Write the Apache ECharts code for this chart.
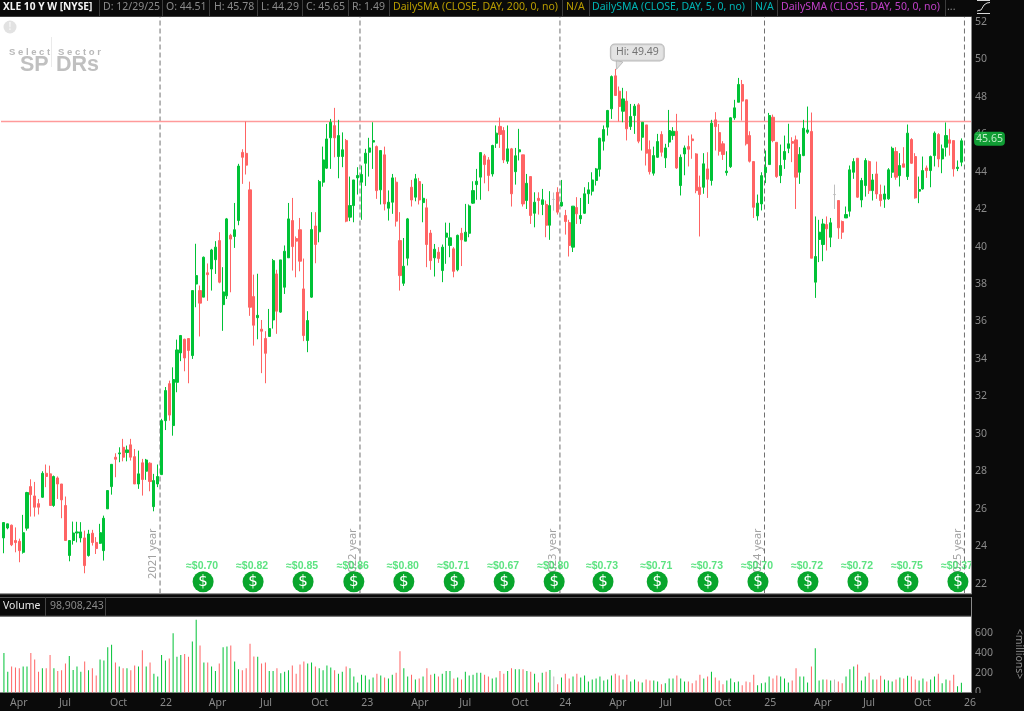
<!DOCTYPE html>
<html>
<head>
<meta charset="utf-8">
<title>XLE 10 Y W</title>
<script src="https://cdn.jsdelivr.net/npm/echarts@6/dist/echarts.min.js"></script>
<style>
html, body { margin: 0; padding: 0; background: #0a0a0a; }
#chart { width: 1024px; height: 711px; }
</style>
</head>
<body>
<div id="chart"></div>
<script>
// weekly candles
const opens = [
  24.44,24.97,25.12,24.3,24.26,23.67,24.96,27.18,26.68,26.27,
  26.61,27.89,27.86,26.17,27.64,27.32,26.17,23.5,24.3,24.7,
  24.44,24.44,23.5,24.69,24.2,24.15,23.76,25.99,27.18,28.75,
  28.93,29.28,29.0,29.41,28.78,27.32,28.45,28.0,28.43,26.11,
  27.32,27.82,30.7,32.68,30.44,32.75,34.32,35.05,35.09,34.18,
  38.0,37.65,37.3,38.6,38.8,39.3,40.32,36.9,37.37,40.6,
  40.54,41.39,45.03,44.98,43.03,37.33,36.2,35.59,35.09,35.2,
  36.08,38.54,36.5,37.83,39.4,41.39,40.43,40.9,37.74,34.98,
  37.3,41.1,40.79,43.44,44.19,45.81,46.46,44.81,44.81,45.66,
  41.57,42.19,43.67,43.44,44.45,45.04,45.58,45.34,43.03,44.9,
  42.05,42.37,43.44,40.32,38.04,39.38,43.17,42.64,43.47,42.35,
  42.07,40.72,39.4,39.7,38.72,40.5,40.06,39.88,38.76,40.71,
  40.29,40.71,42.32,43.31,43.71,44.85,44.63,43.88,45.52,46.42,
  46.2,44.56,45.22,44.0,45.06,44.9,42.46,43.74,41.78,42.58,
  42.25,42.25,41.14,42.52,42.9,42.17,41.66,41.28,39.97,42.09,
  41.48,41.78,42.82,42.96,43.53,44.13,45.63,46.38,47.36,49.12,
  48.3,47.23,47.77,46.41,47.0,47.57,45.84,46.5,45.18,43.92,
  44.77,45.99,44.74,45.58,45.93,46.16,43.26,44.95,45.34,45.75,
  44.95,43.17,43.17,44.15,43.53,46.77,46.09,45.49,43.95,44.27,
  46.88,47.71,48.66,47.84,45.93,44.54,41.64,42.28,43.95,44.38,
  46.91,45.57,43.79,44.65,45.25,45.61,45.7,43.97,44.86,46.11,
  46.15,38.1,40.38,40.11,41.18,40.5,42.78,42.46,41.34,41.53,
  41.89,43.97,44.72,42.49,43.26,44.54,42.99,43.88,42.78,42.53,
  42.55,43.97,45.08,43.79,44.42,43.74,45.72,44.81,42.96,43.08,
  44.2,44.06,44.86,45.99,44.68,45.31,45.7,45.66,44.17,44.51
]
const closes = [
  25.26,25.19,24.07,24.19,23.76,24.72,26.86,26.75,26.08,26.08,
  27.89,27.72,26.17,27.72,27.32,26.47,24.3,24.3,24.7,24.76,
  24.76,22.96,24.65,24.19,23.87,24.72,25.49,26.97,28.37,28.64,
  28.98,28.75,29.14,28.75,27.32,27.86,27.56,28.6,27.45,27.5,
  27.72,30.7,32.31,31.0,32.9,34.48,35.25,34.05,34.45,37.65,
  38.45,36.98,39.43,38.5,39.82,39.97,38.1,37.58,41.48,40.4,
  40.9,44.3,44.77,44.35,36.76,35.8,36.33,35.48,34.3,35.62,
  39.25,36.55,39.29,39.75,41.48,40.0,40.29,39.22,35.25,36.05,
  40.91,40.11,43.47,44.63,45.75,46.64,45.81,45.93,45.17,41.36,
  42.19,43.56,43.8,43.85,44.99,45.27,45.66,42.99,45.13,42.28,
  42.37,43.67,41.36,38.45,38.95,41.48,42.49,43.62,42.49,42.58,
  40.11,39.25,39.86,39.36,39.97,40.72,40.47,38.68,40.6,40.36,
  40.77,42.17,42.99,43.49,45.02,44.38,43.8,45.4,46.06,45.99,
  44.63,45.22,42.82,44.85,45.17,42.28,43.38,41.66,42.37,42.46,
  42.5,41.14,42.19,42.52,41.84,42.37,41.34,40.06,42.16,41.75,
  41.66,42.82,43.03,43.56,44.15,45.79,46.25,47.27,49.08,48.07,
  47.48,47.89,46.29,46.95,47.5,45.63,46.64,44.99,44.0,44.86,
  45.61,45.04,45.27,46.2,46.16,44.2,44.77,45.27,45.2,45.66,
  42.99,42.78,44.42,43.6,46.59,46.41,45.09,44.92,44.03,46.88,
  47.41,48.66,47.77,45.49,44.56,42.1,42.32,43.79,44.24,47.0,
  45.66,43.74,44.33,45.08,45.49,45.52,43.71,44.92,46.32,46.23,
  39.38,39.47,40.77,41.21,40.95,41.27,42.78,41.0,40.77,41.71,
  44.1,44.54,42.64,43.53,44.6,42.99,43.56,42.81,42.46,42.81,
  44.1,45.25,43.71,44.33,44.24,46.06,44.45,42.6,43.05,44.06,
  44.06,44.81,46.06,44.68,45.22,45.93,45.52,44.15,44.24,45.65
]
const lows = [
  23.62,24.9,24.0,23.67,23.14,23.6,24.83,25.58,25.58,25.69,
  26.58,27.15,26.17,26.1,26.52,25.49,24.3,23.19,24.08,24.2,
  24.2,22.55,23.44,24.03,23.58,24.12,23.23,25.99,26.75,27.68,
  28.48,28.53,28.53,28.57,27.32,27.06,26.7,27.54,26.93,25.86,
  27.15,27.8,30.2,30.7,29.9,32.22,33.88,33.34,32.7,34.0,
  36.76,35.2,37.3,37.1,37.65,38.54,38.04,35.5,37.2,37.56,
  39.93,41.14,43.35,43.85,36.3,34.71,35.05,33.24,32.7,35.2,
  35.62,35.34,36.46,37.47,39.4,38.72,38.36,38.68,34.95,34.36,
  37.26,39.11,40.23,43.2,44.15,44.15,44.77,43.65,44.24,41.3,
  41.36,41.3,42.78,41.43,43.24,43.74,44.15,42.55,42.25,41.93,
  41.39,41.75,41.07,37.65,37.9,38.99,42.14,42.42,42.25,41.3,
  38.9,38.76,38.4,39.13,38.1,39.08,39.43,38.36,38.68,38.96,
  40.29,40.5,42.28,42.5,42.5,43.38,42.96,43.74,45.27,45.27,
  44.46,44.42,42.14,43.31,44.6,42.14,42.01,41.21,41.03,41.71,
  41.68,40.5,40.36,41.92,41.71,42.14,40.64,39.47,39.71,41.21,
  41.21,41.75,42.28,42.73,43.26,43.74,45.13,45.93,46.82,48.07,
  46.68,46.64,45.67,46.23,46.02,45.52,45.13,44.33,43.85,43.79,
  44.74,44.81,44.2,45.31,45.7,44.15,42.73,43.81,44.28,44.69,
  42.85,40.54,42.82,42.6,43.26,45.13,44.86,44.63,43.79,44.2,
  46.77,47.71,46.73,45.4,44.49,41.53,41.39,41.93,43.39,44.38,
  45.57,43.67,43.39,44.15,44.99,44.51,42.01,43.35,44.83,46.02,
  39.38,37.26,39.17,39.22,39.79,39.97,42.01,40.41,40.41,41.53,
  41.6,43.62,42.6,42.1,42.67,42.81,42.46,42.55,42.14,42.07,
  42.5,43.67,43.57,43.21,44.24,43.56,44.42,42.56,42.32,43.04,
  43.67,43.17,44.28,44.24,43.92,44.81,44.86,43.74,44.03,44.29
]
const highs = [
  25.28,25.2,25.15,25.0,24.4,25.67,26.9,27.57,27.43,26.52,
  28.0,28.36,28.3,27.77,27.72,27.32,26.65,24.3,25.31,25.3,
  25.28,24.83,24.87,24.87,24.48,25.19,25.63,26.97,28.37,28.96,
  29.28,29.73,29.37,29.73,29.19,29.1,28.66,28.66,28.48,27.86,
  28.36,30.8,32.5,32.84,33.55,35.03,35.28,35.08,35.1,37.65,
  40.15,37.92,39.47,39.1,39.88,40.29,40.77,38.9,41.53,40.68,
  42.33,44.42,45.2,46.68,43.47,38.5,38.55,36.08,35.48,36.67,
  39.34,38.76,39.29,40.06,42.33,42.6,40.54,41.53,39.36,36.55,
  41.84,41.84,43.56,45.34,46.55,46.82,47.41,46.77,46.1,45.75,
  43.74,43.56,44.24,44.33,45.22,45.81,46.64,45.4,45.13,45.34,
  43.0,43.88,43.7,41.84,40.46,41.53,43.56,43.88,43.67,43.35,
  42.55,40.89,40.14,39.97,40.11,41.28,41.27,39.97,40.64,41.0,
  42.28,42.25,43.49,44.15,45.02,44.95,44.78,45.44,46.47,46.89,
  46.38,46.47,45.27,45.27,46.29,44.9,43.88,43.74,42.9,42.9,
  43.08,42.46,42.96,42.89,43.17,43.56,41.96,41.43,42.16,42.64,
  42.6,43.17,43.44,43.97,44.2,45.81,46.47,47.3,49.14,49.49,
  48.55,48.48,48.3,47.62,47.62,47.66,46.64,46.5,45.67,45.34,
  46.02,46.16,45.49,47.3,46.38,47.09,44.92,45.4,45.93,45.99,
  44.99,43.79,44.99,45.04,46.77,47.18,46.55,45.63,45.09,46.91,
  47.84,49.01,48.9,47.84,46.16,44.54,42.78,43.97,45.13,47.14,
  47.05,45.57,45.45,45.93,46.56,45.84,45.93,45.31,46.77,47.48,
  47.16,41.61,41.43,41.48,41.61,41.53,43.31,42.46,41.39,42.14,
  44.33,44.72,44.72,43.67,44.72,44.6,43.88,44.54,43.31,43.26,
  44.19,45.34,45.31,44.99,45.31,46.52,45.79,44.99,43.74,44.81,
  44.33,44.86,46.15,46.06,45.45,46.63,46.29,45.66,44.6,45.78
]
// volume in millions
const volumes = [
  401,209,263,253,246,263,263,401,334,209,
  246,246,381,246,219,226,293,371,229,263,
  209,313,226,246,172,334,324,458,485,303,
  263,246,246,226,273,263,428,263,303,189,
  162,381,324,344,600,361,381,391,361,516,
  738,475,303,303,263,219,293,458,465,475,
  313,236,226,246,495,364,361,293,303,219,
  219,246,195,209,226,273,189,283,313,293,
  303,263,246,226,273,253,226,189,209,263,
  246,162,101,179,172,131,152,189,172,152,
  142,179,199,418,246,162,179,131,142,162,
  246,179,189,162,189,219,219,142,152,131,
  209,172,179,199,199,179,162,142,152,219,
  189,219,
  246,236,236,236,219,209,189,101,199,209,
  229,162,84,152,189,142,162,189,152,172,
  111,131,142,162,121,131,172,189,172,131,
  179,111,131,111,101,131,121,121,111,84,
  94,142,142,172,142,111,111,94,121,179,
  142,162,209,152,121,84,121,142,104,111,
  74,111,104,179,74,94,101,162,142,172,
  162,142,101,121,246,162,162,101,263,448,
  121,131,131,121,131,111,94,162,236,263,
  283,121,162,199,131,131,169,131,121,111,
  131,152,142,169,162,131,121,142,111,131,
  162,189,94,131,121,179,64,99
]

const slotCount = 252
const xTickWeeks = [1.6,14.3,27.6,40.6,53.3,66.6,79.9,92.9,105.9,118.4,132,144.4,157.4,170.6,184.7,197.7,210.7,223.4,236.7,249.7]
const xTickNames = ['Apr','Jul','Oct','22','Apr','Jul','Oct','23','Apr','Jul','Oct','24','Apr','Jul','Oct','25','Apr','Jul','Oct','26']
const priceTicks = [22,24,26,28,30,32,34,36,38,40,42,44,46,48,50,52]
const volumeTicks = [0,200,400,600]

const yearLines = [40.6,92.6,144.6,197.8,249.8]
const yearNames = ['2021 year','2022 year','2023 year','2024 year','2025 year']
const divWeeks = [51.8,64.8,77.8,91,104,117.1,130.1,143.1,155.8,169.9,183.1,196.1,209.1,222.1,235.1,248.1]
const divNames = ['≈$0.70','≈$0.82','≈$0.85','≈$0.86','≈$0.80','≈$0.71','≈$0.67','≈$0.80','≈$0.73','≈$0.71','≈$0.73','≈$0.70','≈$0.72','≈$0.72','≈$0.75','≈$0.37']
const highLevel = 46.68
const lastClose = 45.65
const hiWeek = 159
const hiPrice = 49.49

const headerTexts = [
  ['XLE 10 Y W [NYSE]', '#f4f4f4', 3, 'bold'],
  ['D: 12/29/25', '#8a8a8a', 103],
  ['O: 44.51', '#8a8a8a', 166],
  ['H: 45.78', '#8a8a8a', 214],
  ['L: 44.29', '#8a8a8a', 261],
  ['C: 45.65', '#8a8a8a', 306],
  ['R: 1.49', '#8a8a8a', 352],
  ['DailySMA (CLOSE, DAY, 200, 0, no)', '#b89c00', 393],
  ['N/A', '#b89c00', 566],
  ['DailySMA (CLOSE, DAY, 5, 0, no)', '#00b4b4', 592],
  ['N/A', '#00b4b4', 755],
  ['DailySMA (CLOSE, DAY, 50, 0, no)', '#c040c8', 781],
  ['...', '#8a8a8a', 947]
]
const headerSeps = [99,162,209,257,302,348,389,562,589,751,777,945]

const UP = '#00c236'
const DOWN = '#ff6464'
const FLAT = '#bdbdbd'
const FONT = '"Noto Sans", sans-serif'

const weeks = Array.from({ length: slotCount }, (_, i) => i)
const barColor = i => closes[i] > opens[i] ? UP : closes[i] < opens[i] ? DOWN : FLAT

const candleData = opens.map((o, i) => {
  const item = { value: [o, closes[i], lows[i], highs[i]] }
  if (o === closes[i]) {
    item.itemStyle = { color: FLAT, color0: FLAT, borderColor: FLAT, borderColor0: FLAT }
  }
  return item
})
const volumeData = volumes.map((v, i) => ({ value: v, itemStyle: { color: barColor(i) } }))

const chart = echarts.init(document.getElementById('chart'))

const txt = (x, y, text, fill, size, extra) => ({
  type: 'text', x, y, z: 6,
  style: Object.assign({ text, fill, font: `${size}px ${FONT}`, textVerticalAlign: 'middle' }, extra || {})
})
const rect = (x, y, width, height, fill, z) => ({ type: 'rect', silent: true, z, shape: { x, y, width, height }, style: { fill } })

const graphicEls = [
  // white panels under the series
  rect(0, 16.5, 971, 577, '#ffffff', -1),
  rect(0, 616.5, 971, 76, '#ffffff', -1),
  // right strip masks whatever runs past the plot
  rect(971.5, 16, 53, 580, '#0a0a0a', 3),
  rect(971.5, 693, 53, 5, '#0a0a0a', 8),
  rect(0, 593, 972, 1.2, '#9a9a9a', 4),
  rect(971, 16, 1, 578, '#8a8a8a', 4),
  rect(0, 16, 972, 1, '#3c3c3c', 4),
  // volume header
  rect(0, 597, 972, 1, '#555555', 4),
  rect(0, 615.8, 972, 1, '#777777', 4),
  rect(971, 597, 1, 96, '#8a8a8a', 4),
  rect(45, 597, 1, 19, '#444444', 4),
  rect(105, 597, 1, 19, '#444444', 4),
  txt(3, 606.5, 'Volume', '#e8e8e8', 10.5),
  txt(50, 606.5, '98,908,243', '#8a8a8a', 10.5),
  // <millions> on the far right
  {
    type: 'text', z: 6, x: 1019, y: 654, rotation: -Math.PI / 2,
    style: { text: '<millions>', fill: '#8a8a8a', font: `10.5px ${FONT}`, textAlign: 'center', textVerticalAlign: 'middle' }
  },
  // top right icon
  { type: 'polyline', z: 6, shape: { points: [[977, 13.5], [990, 13.5]] }, style: { stroke: '#d8d8d8', lineWidth: 1, fill: 'none' } },
  { type: 'polyline', z: 6, shape: { points: [[977, 11], [981, 10], [984, 5], [987, 3], [990, 2.5]] }, style: { stroke: '#d8d8d8', lineWidth: 1, fill: 'none' } },
  { type: 'polyline', z: 6, shape: { points: [[977, 0.5], [990, 0.5]] }, style: { stroke: '#d8d8d8', lineWidth: 1, fill: 'none' } },
  // sponsor watermark
  { type: 'circle', z: 1, shape: { cx: 10, cy: 27, r: 6.5 }, style: { fill: '#e2e2e2' } },
  txt(10, 27, '!', '#f4f4f4', 10, { textAlign: 'center', font: `bold 10px ${FONT}` }),
  { type: 'rect', z: 1, shape: { x: 51, y: 37, width: 0.6, height: 30 }, style: { fill: '#dcdcdc' } },
  txt(9, 52, 'S e l e c t   S e c t o r', '#b8b8b8', 9.5, { font: `bold 9.5px "Liberation Sans", sans-serif` }),
  txt(20, 65, 'SP', '#c0c0c0', 21.5, { font: `bold 21.5px "Liberation Sans", sans-serif` }),
  txt(56, 65, 'DRs', '#c0c0c0', 21.5, { font: `bold 21.5px "Liberation Sans", sans-serif` })
]
headerTexts.forEach(h => {
  graphicEls.push(txt(h[2], 7.5, h[0], h[1], 10.5, h[3] ? { font: `bold 10.2px ${FONT}` } : null))
})
headerSeps.forEach(x => graphicEls.push(rect(x, 0, 1, 16, '#3c3c3c', 4)))

const lineSeries = []
yearLines.forEach(w => {
  lineSeries.push({
    type: 'line', xAxisIndex: 1, yAxisIndex: 0, symbol: 'none', silent: true, z: 1,
    data: [[w, 21.47], [w, 52.29]],
    lineStyle: { color: '#707070', width: 1, type: [5, 3] }
  })
})

const option = {
  animation: false,
  backgroundColor: '#0a0a0a',
  textStyle: { fontFamily: FONT },
  graphic: { elements: graphicEls },
  grid: [
    { left: 2, width: 969, top: 16.5, height: 577 },
    { left: 2, width: 969, top: 616.5, height: 76 }
  ],
  xAxis: [
    { type: 'category', gridIndex: 0, data: weeks, show: false },
    { type: 'value', gridIndex: 0, min: -0.5, max: slotCount - 0.5, show: false },
    { type: 'category', gridIndex: 1, data: weeks, show: false },
    {
      type: 'value', gridIndex: 1, position: 'bottom', min: -0.5, max: slotCount - 0.5, z: 6,
      splitLine: { show: false },
      axisLine: { show: false },
      axisTick: { show: false },
      axisLabel: {
        color: '#8a8a8a', fontSize: 10.5, align: 'left', margin: 5, hideOverlap: false,
        customValues: xTickWeeks,
        formatter: (v) => xTickNames[xTickWeeks.indexOf(v)]
      }
    }
  ],
  yAxis: [
    {
      type: 'value', gridIndex: 0, position: 'right', min: 21.47, max: 52.29, z: 6,
      splitLine: { show: false },
      axisLine: { show: false },
      axisTick: { show: false },
      axisLabel: { color: '#8a8a8a', fontSize: 10.5, margin: 4, customValues: priceTicks }
    },
    {
      type: 'value', gridIndex: 1, position: 'right', min: 0, max: 770, z: 6,
      splitLine: { show: false },
      axisLine: { show: false },
      axisTick: { show: false },
      axisLabel: { color: '#8a8a8a', fontSize: 10.5, margin: 4, customValues: volumeTicks }
    }
  ],
  series: [
    ...lineSeries,
    {
      type: 'scatter', xAxisIndex: 1, yAxisIndex: 0, symbolSize: 0, silent: true, z: 1,
      data: yearLines.map((w, i) => ({ value: [w, 23.6], label: { formatter: yearNames[i] } })),
      label: { show: true, position: 'inside', rotate: 90, offset: [0, -7], color: '#8a8a8a', fontSize: 11 }
    },
    {
      type: 'candlestick', xAxisIndex: 0, yAxisIndex: 0, barWidth: 2.6, z: 2, silent: true,
      data: candleData,
      itemStyle: { color: UP, color0: DOWN, borderColor: UP, borderColor0: DOWN, borderWidth: 1 }
    },
    {
      type: 'line', xAxisIndex: 1, yAxisIndex: 0, symbol: 'none', silent: true, z: 2, clip: false,
      data: [[-1.03, highLevel], [slotCount - 0.5, highLevel]],
      lineStyle: { color: '#ff9a9a', width: 1.4 }
    },
    {
      // dividend coins
      type: 'scatter', xAxisIndex: 1, yAxisIndex: 0, symbol: 'circle', symbolSize: 21, silent: true, z: 2,
      data: divWeeks.map(w => [w, 22.1]),
      itemStyle: { color: '#08a62c', opacity: 1 },
      label: { show: true, position: 'inside', formatter: '$', color: '#ffffff', fontSize: 15, fontFamily: 'DejaVu Sans' }
    },
    {
      type: 'scatter', xAxisIndex: 1, yAxisIndex: 0, symbolSize: 0, silent: true, z: 2, clip: false,
      data: divWeeks.map((w, i) => ({ value: [w, 22.95], label: { formatter: divNames[i] } })),
      label: { show: true, position: 'inside', offset: [-1, 0], color: '#33dc62', fontSize: 10.5, fontWeight: 'bold', fontFamily: 'Liberation Sans' }
    },
    {
      // callout over the top of the range
      type: 'scatter', xAxisIndex: 1, yAxisIndex: 0, symbol: 'triangle', symbolSize: [7, 9], symbolRotate: 160, silent: true, z: 3,
      data: [[hiWeek + 0.7, hiPrice + 0.2]],
      itemStyle: { color: '#dcdcdc', borderColor: '#a8a8a8', borderWidth: 0.6, opacity: 1 }
    },
    {
      type: 'scatter', xAxisIndex: 1, yAxisIndex: 0, symbolSize: 0, silent: true, z: 3,
      data: [[hiWeek, hiPrice]],
      label: {
        show: true, position: 'inside', offset: [22, -16.5], formatter: 'Hi: ' + hiPrice,
        color: '#555555', fontSize: 10.5, backgroundColor: '#dcdcdc', borderColor: '#a8a8a8', borderWidth: 1,
        borderRadius: 4, padding: [3, 5, 2, 5]
      }
    },
    {
      // last price tag on the axis
      type: 'scatter', xAxisIndex: 1, yAxisIndex: 0, symbolSize: 0, silent: true, z: 7, clip: false,
      data: [[slotCount - 0.5, lastClose]],
      label: {
        show: true, position: 'inside', offset: [18.5, -2], formatter: lastClose.toFixed(2),
        color: '#e8ffe8', fontSize: 10.5, backgroundColor: '#12c23e', borderRadius: 4, padding: [2, 2, 1, 2]
      }
    },
    {
      type: 'bar', xAxisIndex: 2, yAxisIndex: 1, barWidth: 1, silent: true,
      data: volumeData
    }
  ]
}
chart.setOption(option)
window.addEventListener('resize', () => chart.resize())
</script>
</body>
</html>
